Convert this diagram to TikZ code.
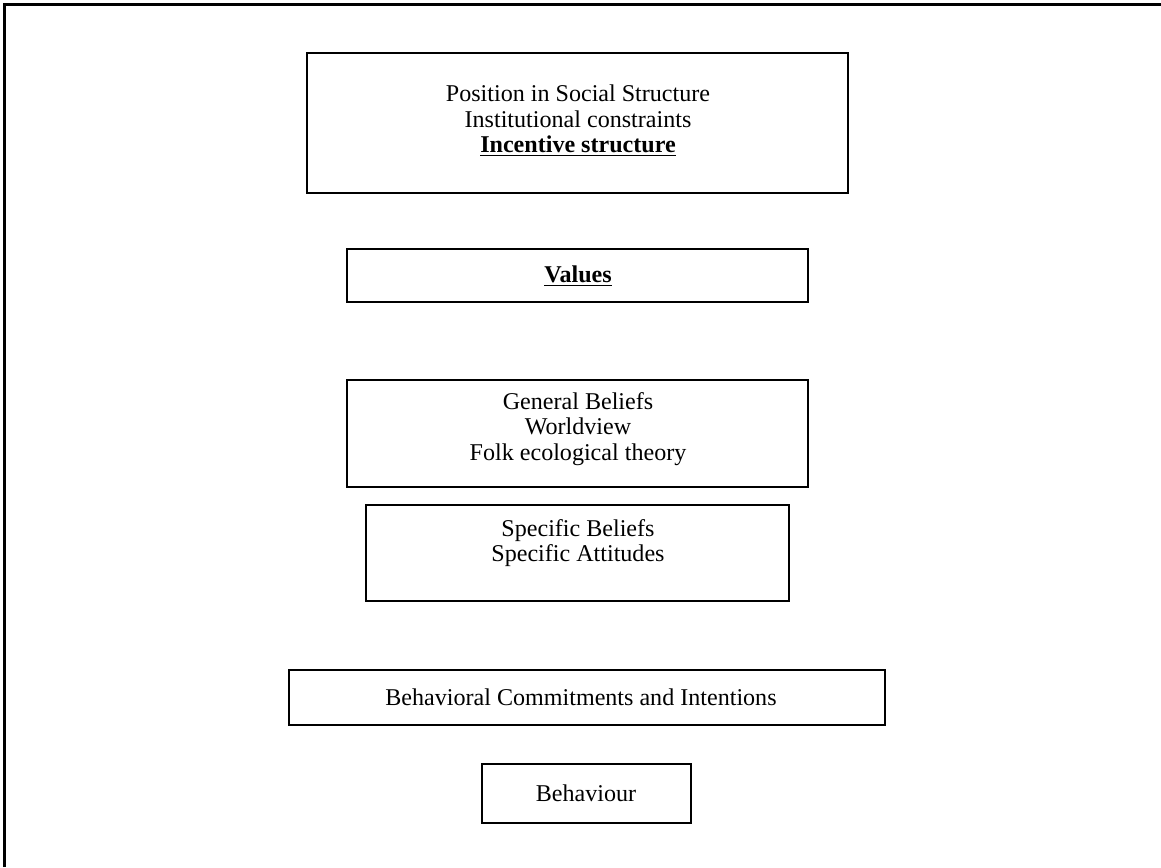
\documentclass[tikz,border=0pt]{standalone}
\usepackage{fontspec}
\setmainfont{Liberation Serif}
\begin{document}
\begin{tikzpicture}[x=0.54pt,y=-0.54pt,
  box/.style n args={2}{draw, line width=0.75pt, inner sep=0pt,
    minimum width=#1*0.54pt, minimum height=#2*0.54pt},
  txt/.style={align=center, inner sep=0pt, font=\fontsize{13}{13.8}\selectfont},
  frame/.style={line width=1.1pt}]
\useasboundingbox (0,0) rectangle (1161,867);
\coordinate (fbl) at (4.5,867);
\coordinate (ftl) at (4.5,4.5);
\coordinate (ftr) at (1161,4.5);
\draw[frame] (fbl) -- (ftl) -- (ftr);

\node[box={541}{140}] (b1) at (577.5,123) {};
\node[txt] (t1) at (578,121) {Position in Social Structure\\Institutional constraints\\\underline{\textbf{Incentive structure}}};

\node[box={461}{53}] (b2) at (577.5,275.5) {};
\node[txt] (t2) at (578,276) {\underline{\textbf{Values}}};

\node[box={461}{107}] (b3) at (577.5,433.5) {};
\node[txt] (t3) at (578,429) {General Beliefs\\Worldview\\Folk ecological theory};

\node[box={423}{96}] (b4) at (577.5,553) {};
\node[txt] (t4) at (578,543) {Specific Beliefs\\Specific Attitudes};

\node[box={596}{55}] (b5) at (587,697.5) {};
\node[txt] (t5) at (581,697) {Behavioral Commitments and Intentions};

\node[box={209}{59}] (b6) at (586.5,793.5) {};
\node[txt] (t6) at (586,793) {Behaviour};
\end{tikzpicture}
\end{document}
